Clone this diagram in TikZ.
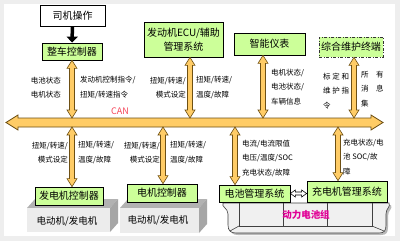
\documentclass[tikz,border=0pt]{standalone}
\usepackage{fontspec}
\newfontfamily\cjk{Noto Sans CJK SC}
\usetikzlibrary{calc, positioning}
\usetikzlibrary{arrows.meta}

\definecolor{boxgreen}{RGB}{204,255,153}
\definecolor{linkfill}{RGB}{255,204,102}
\definecolor{linkline}{RGB}{110,80,20}
\definecolor{canred}{RGB}{245,70,90}
\definecolor{packpink}{RGB}{225,0,150}
\definecolor{pagegray}{RGB}{238,238,238}

\tikzset{
  ctrlbox/.style={draw=black, fill=boxgreen, line width=0.7pt, inner sep=0pt,
    font=\cjk\fontsize{10}{14}\selectfont, align=center},
  sigtext/.style={inner sep=0pt, font=\cjk\fontsize{7.5}{14.5}\selectfont},
  % fat double arrow, top to bottom
  link/.style={draw=linkline, fill=linkfill, line width=0.6pt,
    to path={let \p1=(\tikztostart), \p2=(\tikztotarget) in
      (\x1,\y1) -- (\x1-5pt,\y1-8pt) -- (\x1-2.5pt,\y1-8pt) -- (\x1-2.5pt,\y2+8pt)
      -- (\x1-5pt,\y2+8pt) -- (\x1,\y2) -- (\x1+5pt,\y2+8pt) -- (\x1+2.5pt,\y2+8pt)
      -- (\x1+2.5pt,\y1-8pt) -- (\x1+5pt,\y1-8pt) -- cycle}},
  % the CAN bus, left to right
  busline/.style={draw=linkline, fill=linkfill, line width=0.8pt,
    to path={let \p1=(\tikztostart), \p2=(\tikztotarget) in
      (\x1,\y1) -- (\x1+12pt,\y1+7.5pt) -- (\x1+12pt,\y1+4.5pt) -- (\x2-12pt,\y1+4.5pt)
      -- (\x2-12pt,\y1+7.5pt) -- (\x2,\y1) -- (\x2-12pt,\y1-7.5pt) -- (\x2-12pt,\y1-4.5pt)
      -- (\x1+12pt,\y1-4.5pt) -- (\x1+12pt,\y1-7.5pt) -- cycle}},
  pairlink/.style={draw=black, fill=white, line width=0.6pt,
    to path={let \p1=(\tikztostart), \p2=(\tikztotarget) in
      (\x1,\y1) -- (\x1+5pt,\y1+3.5pt) -- (\x1+5pt,\y1+1.5pt) -- (\x2-5pt,\y1+1.5pt)
      -- (\x2-5pt,\y1+3.5pt) -- (\x2,\y1) -- (\x2-5pt,\y1-3.5pt) -- (\x2-5pt,\y1-1.5pt)
      -- (\x1+5pt,\y1-1.5pt) -- (\x1+5pt,\y1-3.5pt) -- cycle}},
}

\begin{document}
\begin{tikzpicture}[x=1pt,y=-1pt]
\useasboundingbox (0,0) rectangle (400,241);
\fill[pagegray] (0,0) rectangle (400,241);
\fill[white] (4,4) rectangle (395,236);

% Motor blocks
\foreach \xa/\xb/\yt/\yb in {27/110/208/232, 120/199/208/233}{
  \fill[gray!60] (\xa,\yt) -- (\xa+8,\yt-9) -- (\xb+8,\yt-9) -- (\xb,\yt) -- cycle;
  \fill[gray!70] (\xb,\yt) -- (\xb+8,\yt-9) -- (\xb+8,\yb-9) -- (\xb,\yb) -- cycle;
  \fill[gray!15] (\xa,\yt) rectangle (\xb,\yb);
}
\node[sigtext, font=\cjk\fontsize{9.5}{11}\selectfont] (motor1) at (67,221) {电动机/发电机};
\node[sigtext, font=\cjk\fontsize{9.5}{11}\selectfont] (motor2) at (158,220) {电动机/发电机};

% Battery pack
\fill[gray!55] (225,205) .. controls (223,209) and (230,210) .. (230,216) -- (230,227)
  .. controls (230,233) and (233,235) .. (238,235) -- (381,235)
  .. controls (386,235) and (388,233) .. (388,227) -- (388,216)
  .. controls (388,210) and (393,209) .. (391,205) -- cycle;
\draw[black!75, fill=gray!12, line width=0.6pt]
  (223,203) .. controls (221,207) and (228,208) .. (228,214) -- (228,225)
  .. controls (228,231) and (231,233) .. (236,233) -- (379,233)
  .. controls (384,233) and (386,231) .. (386,225) -- (386,214)
  .. controls (386,208) and (391,207) .. (389,203) -- cycle;
\draw[black!75, line width=0.6pt] (239,203) -- (239,226) -- (372,226) -- (372,203);
\draw[black!75, line width=0.6pt] (239,226) -- (230,231) (372,226) -- (384,231);
\foreach \x in {283,327}{
  \draw[black!75, line width=0.6pt] (\x,203) -- (\x,226);
}
\node[inner sep=0pt, font=\cjk\bfseries\fontsize{9.5}{11}\selectfont, text=packpink]
  (pack) at (306,215) {动力电池组};

% Boxes
\node[ctrlbox, fill=white, minimum width=65pt, minimum height=21pt] (driver) at (72.5,15.5) {司机操作};
\node[ctrlbox, minimum width=60pt, minimum height=17pt] (vcu) at (72,51.5) {整车控制器};
\node[ctrlbox, minimum width=79pt, minimum height=35pt] (ecu) at (183.5,39.5) {发动机ECU/辅助\\管理系统};
\node[ctrlbox, minimum width=71pt, minimum height=22pt] (meter) at (269.5,44) {智能仪表};
\node[ctrlbox, draw=black!80, dash pattern=on 3pt off 1.5pt on 1pt off 1.5pt,
  minimum width=64pt, minimum height=20pt] (term) at (351,47) {综合维护终端};
\node[ctrlbox, minimum width=68pt, minimum height=18pt] (gcu) at (69,196) {发电机控制器};
\node[ctrlbox, minimum width=70pt, minimum height=18pt] (mcu) at (162,193) {电机控制器};
\node[ctrlbox, minimum width=71pt, minimum height=17pt] (bms) at (254.5,193.5) {电池管理系统};
\node[ctrlbox, minimum width=80pt, minimum height=21pt] (chg) at (347,191.5) {充电机管理系统};

% CAN bus
\coordinate (busL) at (6,122.5);
\coordinate (busR) at (383,122.5);
\draw[busline] (busL) to (busR);
\node[inner sep=0pt, font=\cjk\fontsize{9}{11}\selectfont, text=canred] (canlabel) at (120,111) {CAN};
\foreach \x [count=\i] in {72,190,263,354}{
  \coordinate (t\i) at (\x,118);
}
\foreach \x [count=\i] in {72,163,235,338}{
  \coordinate (b\i) at (\x,127);
}

% Connectors
\draw[line width=3.5pt, -{Triangle[length=6pt,width=11pt]}] (driver) -- (vcu);
\foreach \dev/\port in {vcu/t1, ecu/t2, meter/t3, term/t4}{
  \draw[link] (\dev.south -| \port) to (\port);
}
\foreach \dev/\port in {gcu/b1, mcu/b2, bms/b3, chg/b4}{
  \draw[link] (\port) to (\port |- \dev.north);
}
\draw[pairlink] (bms.east) to (chg.west);

% Signals above the bus
\node[sigtext, anchor=east, align=right] (s1) at (61,87.5) {电池状态\\电机状态};
\node[sigtext, anchor=west, align=left] (s2) at (80,87.5) {发动机控制指令/\\扭矩/转速指令};
\node[sigtext, anchor=east, align=right] (s3) at (186,87.5) {扭矩/转速/\\模式设定};
\node[sigtext, anchor=west, align=left] (s4) at (196,87.5) {扭矩/转速/\\温度/故障};
\node[sigtext, anchor=west, align=left] (s5) at (271,87) {电机状态/\\电池状态/\\车辆信息};
\node[sigtext, anchor=west, align=left] (s6) at (323,91) {标\ 定\ 和\\维\ 护\ 指\\令};
\node[sigtext, anchor=west, align=left] (s7) at (361,89) {所\quad 有\\消\quad 息\\集};

% Signals below the bus
\node[sigtext, anchor=east, align=right] (s8) at (68,152.5) {扭矩/转速/\\模式设定};
\node[sigtext, anchor=west, align=left] (s9) at (78,152.5) {扭矩/转速/\\温度/故障};
\node[sigtext, anchor=east, align=right] (s10) at (160,152.5) {扭矩/转速/\\模式设定};
\node[sigtext, anchor=west, align=left] (s11) at (170,152.5) {扭矩/转速/\\温度/故障};
\node[sigtext, anchor=west, align=left] (s12) at (242,158.5) {电流/电流限值\\电压/温度/SOC\\充电状态/故障};
\node[sigtext, anchor=west, align=left] (s13) at (343,157) {充电状态/电\\池 SOC/故\\障};
\end{tikzpicture}
\end{document}
